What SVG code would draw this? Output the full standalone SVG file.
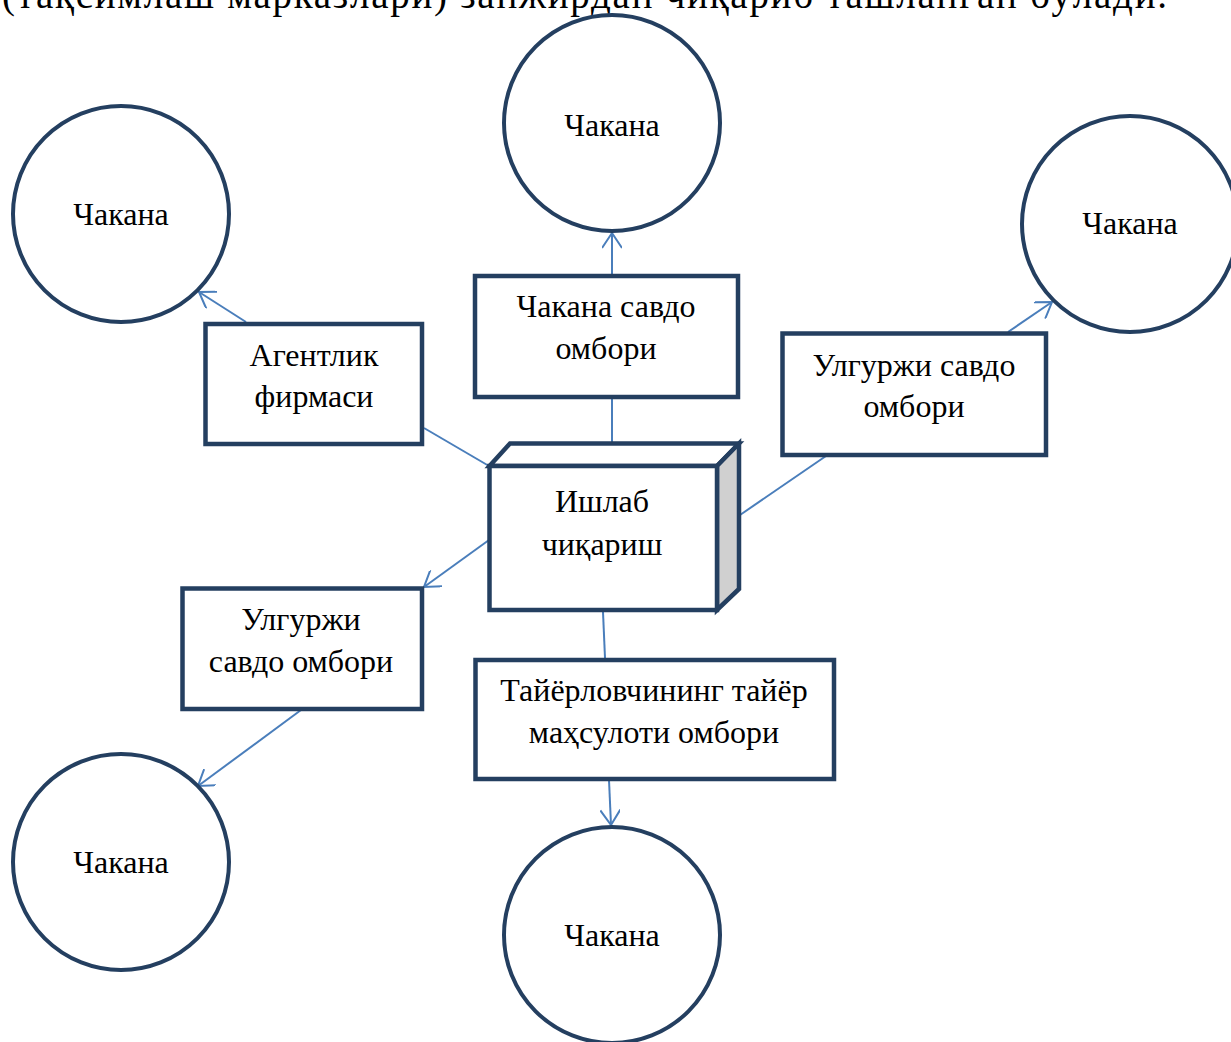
<svg xmlns="http://www.w3.org/2000/svg" width="1231" height="1042" viewBox="0 0 1231 1042">
<style>
  .node { fill: #ffffff; stroke: #243F60; stroke-width: 4.5; }
  .circ { fill: #ffffff; stroke: #243F60; stroke-width: 4; }
  .side { fill: #D0D0D0; stroke: #243F60; stroke-width: 4.5; stroke-linejoin: miter; }
  .lbl { font-family: "Liberation Serif", "Times New Roman", serif; font-size: 32px; fill: #000000; text-anchor: middle; }
  .conn line { stroke: #4A7EBB; stroke-width: 2; fill: none; }
  .head text { font-family: "Liberation Serif", "Times New Roman", serif; font-size: 39px; fill: #000; }
</style>
<defs>
  <marker id="arr" viewBox="0 0 20 20" refX="18" refY="10" markerWidth="20" markerHeight="20" markerUnits="userSpaceOnUse" orient="auto">
    <path d="M3,0 L18,10 L3,20" fill="none" stroke="#4A7EBB" stroke-width="2"/>
  </marker>
</defs>
<rect width="1231" height="1042" fill="#ffffff"/>
<g class="head" id="header-text">
  <text x="2" y="8" textLength="1165" lengthAdjust="spacing">(тақсимлаш марказлари) занжирдан чиқариб ташланган бўлади.</text>
</g>
<g class="conn" id="connectors">
  <line x1="489" y1="466" x2="424" y2="428"/>
  <line x1="246" y1="322" x2="199" y2="292" marker-end="url(#arr)"/>
  <line x1="612" y1="443" x2="612" y2="397"/>
  <line x1="612" y1="275" x2="612" y2="233" marker-end="url(#arr)"/>
  <line x1="740" y1="515" x2="826" y2="456"/>
  <line x1="1008" y1="332" x2="1052" y2="302" marker-end="url(#arr)"/>
  <line x1="489" y1="540" x2="424" y2="587" marker-end="url(#arr)"/>
  <line x1="301" y1="710" x2="198" y2="786" marker-end="url(#arr)"/>
  <line x1="603" y1="612" x2="605" y2="658"/>
  <line x1="609" y1="780" x2="611" y2="825" marker-end="url(#arr)"/>
</g>
<g id="circle-top">
  <circle class="circ" cx="612" cy="123" r="108"/>
  <text class="lbl" x="612" y="136">Чакана</text>
</g>
<g id="circle-left-top">
  <circle class="circ" cx="121" cy="214" r="108"/>
  <text class="lbl" x="121" y="225">Чакана</text>
</g>
<g id="circle-right-top">
  <circle class="circ" cx="1130" cy="224" r="108"/>
  <text class="lbl" x="1130" y="234">Чакана</text>
</g>
<g id="circle-left-bottom">
  <circle class="circ" cx="121" cy="862" r="108"/>
  <text class="lbl" x="121" y="873">Чакана</text>
</g>
<g id="circle-bottom">
  <circle class="circ" cx="612" cy="935" r="108"/>
  <text class="lbl" x="612" y="946">Чакана</text>
</g>
<g id="agent">
  <rect class="node" x="205.5" y="324" width="216.5" height="120"/>
  <text class="lbl" x="314" y="366">Агентлик</text>
  <text class="lbl" x="314" y="407">фирмаси</text>
</g>
<g id="retail-warehouse">
  <rect class="node" x="475" y="276" width="263" height="121"/>
  <text class="lbl" x="606" y="317">Чакана савдо</text>
  <text class="lbl" x="606" y="359">омбори</text>
</g>
<g id="wholesale-right">
  <rect class="node" x="782.5" y="333.5" width="263.5" height="121.5"/>
  <text class="lbl" x="914" y="376">Улгуржи савдо</text>
  <text class="lbl" x="914" y="417">омбори</text>
</g>
<g id="wholesale-left">
  <rect class="node" x="182.5" y="588.5" width="239.5" height="120.5"/>
  <text class="lbl" x="301" y="630">Улгуржи</text>
  <text class="lbl" x="301" y="672">савдо омбори</text>
</g>
<g id="producer-warehouse">
  <rect class="node" x="475.5" y="660" width="358.5" height="119"/>
  <text class="lbl" x="654" y="701">Тайёрловчининг тайёр</text>
  <text class="lbl" x="654" y="743">маҳсулоти омбори</text>
</g>
<g id="production">
  <polygon class="node" points="489.5,466 510,443.5 739,443.5 717,466"/>
  <polygon class="side" points="717,466 739,443.5 739,589 717,610"/>
  <rect class="node" x="489.5" y="466" width="227.5" height="144"/>
  <text class="lbl" x="602" y="512">Ишлаб</text>
  <text class="lbl" x="602" y="555">чиқариш</text>
</g>
</svg>
